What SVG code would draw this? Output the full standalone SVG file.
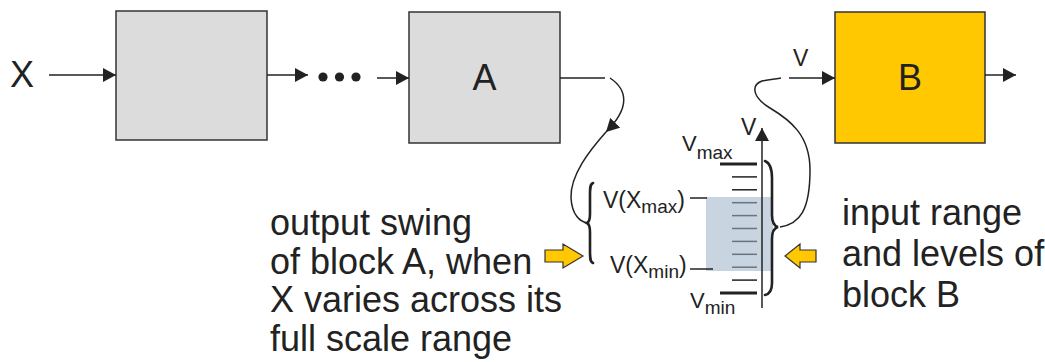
<svg xmlns="http://www.w3.org/2000/svg" width="1045" height="362" viewBox="0 0 1045 362">
<style>
.blk{stroke:#333;stroke-width:1.5}
.gray{fill:#dcdcdc}
.yel{fill:#ffc800}
.t{font-family:"Liberation Sans",Arial,sans-serif;fill:#222}
.big{font-size:36px}
.mid{font-size:23px}
.sub{font-size:19px}
.ln{fill:none;stroke:#222;stroke-width:1.5}
.brace{fill:none;stroke:#222;stroke-width:2.6;stroke-linecap:round}
.thick{stroke:#222;stroke-width:3.2}
.thin{stroke:#222;stroke-width:1.5}
.ya{fill:#ffc800;stroke:#333;stroke-width:1.2}
</style>
<defs>
<marker id="ah" viewBox="0 0 13 14" refX="13" refY="7" markerWidth="13" markerHeight="14" markerUnits="userSpaceOnUse" orient="auto">
<path d="M0,0 L13,7 L0,14 z" fill="#222"/>
</marker>
</defs>

<g id="input-label"><text class="t big" x="10" y="87">X</text></g>

<g id="block1"><rect class="blk gray" x="116" y="11" width="151" height="129"/></g>

<g id="dots" fill="#222">
<circle cx="323" cy="77" r="4.6"/><circle cx="339.5" cy="77" r="4.6"/><circle cx="356" cy="77" r="4.6"/>
</g>

<g id="blockA"><rect class="blk gray" x="409" y="12" width="151" height="131"/>
<text class="t big" x="484.5" y="90" text-anchor="middle">A</text></g>

<g id="blockB"><rect class="blk yel" x="835" y="12" width="150" height="131"/>
<text class="t big" x="910" y="90" text-anchor="middle">B</text></g>

<g id="connectors">
<line class="ln" x1="49" y1="75" x2="116" y2="75" marker-end="url(#ah)"/>
<line class="ln" x1="267" y1="75" x2="308" y2="75" marker-end="url(#ah)"/>
<line class="ln" x1="377" y1="78" x2="409" y2="78" marker-end="url(#ah)"/>
<line class="ln" x1="560" y1="78" x2="605" y2="78"/>
<path class="ln" d="M610,78 C628,90 630,108 606,132" marker-end="url(#ah)"/>
<path class="ln" d="M606,132 C590,150 570,175 571,198 C572,215 580,222 588,223"/>
<path class="ln" d="M780,227 C800,224 810,210 810,170 C810,135 790,120 770,108 C752,97 751,85 762,81 C770,79 776,79 781,78"/>
<line class="ln" x1="789" y1="78" x2="835" y2="78" marker-end="url(#ah)"/>
<text class="t" x="793" y="66" font-size="23">V</text>
<line class="ln" x1="985" y1="75" x2="1016" y2="75" marker-end="url(#ah)"/>
</g>

<g id="scale">
<line class="thick" x1="720" y1="164" x2="757" y2="164"/>
<line class="thick" x1="720" y1="293" x2="757" y2="293"/>
<g class="thin">
<line x1="732" y1="176.9" x2="757" y2="176.9"/>
<line x1="732" y1="189.8" x2="757" y2="189.8"/>
<line x1="732" y1="202.7" x2="757" y2="202.7"/>
<line x1="732" y1="215.6" x2="757" y2="215.6"/>
<line x1="732" y1="228.5" x2="757" y2="228.5"/>
<line x1="732" y1="241.4" x2="757" y2="241.4"/>
<line x1="732" y1="254.3" x2="757" y2="254.3"/>
<line x1="732" y1="267.2" x2="757" y2="267.2"/>
<line x1="732" y1="280.1" x2="757" y2="280.1"/>
</g>
<rect x="706" y="197" width="67" height="74" fill="rgb(158,182,200)" fill-opacity="0.57"/>
<line class="ln" x1="762" y1="308" x2="762" y2="128" marker-end="url(#ah)"/>
<text class="t" x="741" y="135" font-size="23">V</text>
<line class="thin" x1="690" y1="198" x2="707" y2="198"/>
<line class="thin" x1="690" y1="269" x2="713" y2="269"/>
<text class="t mid" x="603" y="208">V(X<tspan class="sub" dy="5">max</tspan><tspan dy="-5">)</tspan></text>
<text class="t mid" x="610" y="273">V(X<tspan class="sub" dy="5">min</tspan><tspan dy="-5">)</tspan></text>
<text class="t" x="682" y="151" font-size="22">V<tspan class="sub" dy="8">max</tspan></text>
<text class="t" x="690" y="308" font-size="22">V<tspan class="sub" dy="6">min</tspan></text>
<path class="brace" d="M593,183 C590,184 590,188 590,195 L590,214 C590,220 589,222 587,223 C589,224 590,226 590,232 L590,251 C590,258 590,262 593,263"/>
<path class="brace" d="M765,161 C770,163 772,168 772,178 L772,215 C772,222 774,226 778,227 C774,228 772,232 772,239 L772,283 C772,290 770,294 765,295"/>
</g>

<g id="arrow-left"><polygon class="ya" points="545,250 563,250 563,244 583,256 563,268 563,262 545,262"/></g>
<g id="arrow-right"><polygon class="ya" points="816,250 800,250 800,244 785,256 800,268 800,262 816,262"/></g>

<g id="text-left" class="t big">
<text x="270" y="235">output swing</text>
<text x="270" y="273.5">of block A, when</text>
<text x="270" y="312">X varies across its</text>
<text x="270" y="350.5">full scale range</text>
</g>
<g id="text-right" class="t big">
<text x="842" y="225">input range</text>
<text x="842" y="266">and levels of</text>
<text x="842" y="307">block B</text>
</g>
</svg>
